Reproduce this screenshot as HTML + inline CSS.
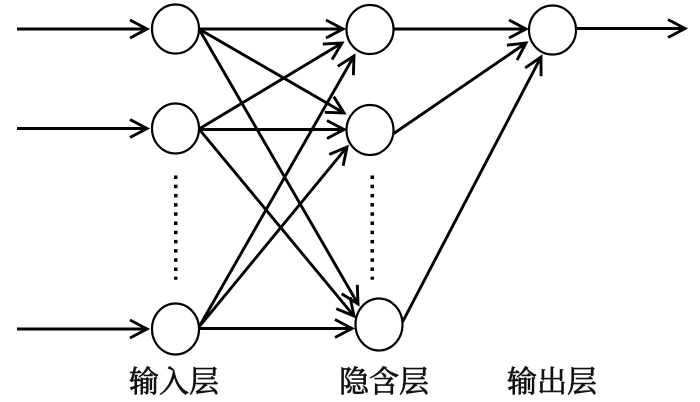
<!DOCTYPE html>
<html>
<head>
<meta charset="utf-8">
<style>
  html, body { margin: 0; padding: 0; background: #fff; }
  body { width: 700px; height: 402px; overflow: hidden; }
  svg { display: block; }
  text { font-family: "Liberation Serif", "Noto Serif CJK SC", "Noto Sans CJK SC", serif; font-size: 30px; fill: #111; stroke: #111; stroke-width: 0.7; }
</style>
</head>
<body>
<svg width="700" height="402" viewBox="0 0 700 402" xmlns="http://www.w3.org/2000/svg">
  <defs>
    <marker id="a" markerWidth="40" markerHeight="40" refX="0" refY="0" orient="auto" markerUnits="userSpaceOnUse" viewBox="-20 -20 40 40" overflow="visible">
      <path d="M-17,-9 L0,0 L-17,9" fill="none" stroke="#000" stroke-width="2.9" stroke-linejoin="miter"/>
    </marker>
  </defs>

  <g stroke="#000" stroke-width="2.9" fill="none" marker-end="url(#a)">
    <!-- input arrows -->
    <line x1="17" y1="29" x2="147" y2="29"/>
    <line x1="17" y1="128.5" x2="147" y2="128.5"/>
    <line x1="17" y1="329" x2="147" y2="329"/>

    <!-- input 1 -->
    <line x1="199" y1="29" x2="343" y2="29"/>
    <line x1="199" y1="29" x2="344" y2="113"/>
    <line x1="199" y1="29" x2="358" y2="304"/>

    <!-- input 2 -->
    <line x1="199" y1="129" x2="342" y2="43"/>
    <line x1="199" y1="129.5" x2="344" y2="129.5"/>
    <line x1="199" y1="129" x2="354" y2="316"/>

    <!-- input 3 -->
    <line x1="199" y1="327" x2="354" y2="56"/>
    <line x1="199" y1="327" x2="347" y2="147"/>
    <line x1="199" y1="328.5" x2="352" y2="328.5"/>

    <!-- hidden to output -->
    <line x1="393" y1="29" x2="526" y2="29"/>
    <line x1="393" y1="134" x2="526" y2="43"/>
    <line x1="402.5" y1="322" x2="541" y2="57"/>

    <!-- output arrow -->
    <line x1="576" y1="28.5" x2="685" y2="28.5"/>
  </g>

  <g stroke="#000" stroke-width="2.2" fill="#fff">
    <ellipse cx="175.5" cy="29" rx="23.5" ry="24.5"/>
    <ellipse cx="175.5" cy="128.5" rx="23.5" ry="25"/>
    <ellipse cx="175.5" cy="329" rx="23.5" ry="25.5"/>
    <ellipse cx="370" cy="29.5" rx="23.5" ry="24.5"/>
    <ellipse cx="370" cy="130" rx="23.5" ry="25"/>
    <ellipse cx="379" cy="324.5" rx="23.5" ry="26"/>
    <ellipse cx="552.5" cy="30" rx="23.5" ry="24.5"/>
  </g>

  <!-- dotted lines -->
  <g fill="#000">
    <rect x="174" y="175.5" width="3.5" height="3.5"/>
    <rect x="174" y="184.7" width="3.5" height="3.5"/>
    <rect x="174" y="193.9" width="3.5" height="3.5"/>
    <rect x="174" y="203.1" width="3.5" height="3.5"/>
    <rect x="174" y="212.3" width="3.5" height="3.5"/>
    <rect x="174" y="221.5" width="3.5" height="3.5"/>
    <rect x="174" y="230.7" width="3.5" height="3.5"/>
    <rect x="174" y="239.9" width="3.5" height="3.5"/>
    <rect x="174" y="249.1" width="3.5" height="3.5"/>
    <rect x="174" y="258.3" width="3.5" height="3.5"/>
    <rect x="174" y="267.5" width="3.5" height="3.5"/>
    <rect x="174" y="276.7" width="3.5" height="3"/>

    <rect x="370.5" y="175.5" width="3.5" height="3.5"/>
    <rect x="370.5" y="184.7" width="3.5" height="3.5"/>
    <rect x="370.5" y="193.9" width="3.5" height="3.5"/>
    <rect x="370.5" y="203.1" width="3.5" height="3.5"/>
    <rect x="370.5" y="212.3" width="3.5" height="3.5"/>
    <rect x="370.5" y="221.5" width="3.5" height="3.5"/>
    <rect x="370.5" y="230.7" width="3.5" height="3.5"/>
    <rect x="370.5" y="239.9" width="3.5" height="3.5"/>
    <rect x="370.5" y="249.1" width="3.5" height="3.5"/>
    <rect x="370.5" y="258.3" width="3.5" height="3.5"/>
    <rect x="370.5" y="267.5" width="3.5" height="3.5"/>
    <rect x="370.5" y="276.7" width="3.5" height="3"/>
  </g>

  <!-- labels -->
  <text x="129" y="392">输入层</text>
  <text x="339" y="392">隐含层</text>
  <text x="507" y="392">输出层</text>
</svg>
</body>
</html>
